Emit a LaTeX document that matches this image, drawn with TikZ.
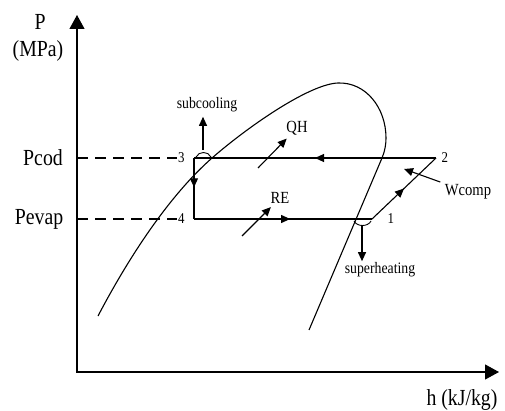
\documentclass[tikz,border=0pt]{standalone}
\usepackage{fontspec}
\setmainfont[FakeStretch=0.86]{Liberation Serif}
\usetikzlibrary{arrows.meta, positioning, decorations.markings}

\begin{document}
\begin{tikzpicture}[
    x=1pt, y=-1pt,
    line width=1.1pt,
    biglabel/.style={font=\fontsize{23}{27}\selectfont, inner sep=0pt},
    smalllabel/.style={font=\fontsize{17}{20}\selectfont, inner sep=3pt},
    ptlabel/.style={font=\fontsize{15}{18}\selectfont, inner sep=0pt},
    axis/.style={{Triangle[length=14pt,width=15pt]}-{Triangle[length=14pt,width=15pt]}},
    arrow/.style={-{Triangle[length=9pt,width=8pt]}},
    dashline/.style={dash pattern=on 11pt off 7pt},
    midarrow/.style={postaction={decorate}, decoration={markings,
        mark=at position #1 with {\arrow{Triangle[length=9pt,width=8pt]}}}},
    midarrow/.default=0.5
]
\useasboundingbox (0,0) rectangle (505,411);

% Axes
\coordinate (O) at (77,372);
\coordinate (ytop) at (77,15);
\coordinate (xend) at (499,372);
\draw[axis] (ytop) -- (O) -- (xend);
\node[biglabel] (P) at (40,22) {P};
\node[biglabel] (MPa) at (38,51) {(MPa)};
\node[biglabel] (hlabel) at (462,400) {h (kJ/kg)};

% Saturation dome
\draw (98,316) .. controls (130,255) and (170,195) .. (212,158)
      .. controls (250,125) and (310,84) .. (338,83)
      .. controls (366,82) and (386,108) .. (386,138)
      .. controls (386,144) and (385,151) .. (382,158) -- (309,330);

% Cycle points
\coordinate (p1) at (372,219);
\coordinate (p2) at (436,158);
\coordinate (p3) at (194,158);
\coordinate (p4) at (194,219);
\node[ptlabel, right=15pt of p1] (n1) {1};
\node[ptlabel, right=5pt of p2] (n2) {2};
\node[ptlabel, left=9pt of p3] (n3) {3};
\node[ptlabel, left=9pt of p4] (n4) {4};

% Pressure levels
\node[biglabel] (Pcod) at (43,158) {Pcod};
\node[biglabel] (Pevap) at (39,219) {Pevap};
\draw[dashline] (O |- p3) -- (n3);
\draw[dashline] (O |- p4) -- (n4);

% Cycle
\draw[midarrow=0.5] (p2) -- (p3);
\draw[midarrow=0.48] (p3) -- (p4);
\draw[midarrow=0.54] (p4) -- (p1);
\draw[midarrow=0.5] (p1) -- (p2);

% Heat and work
\node[smalllabel] (QH) at (297,128) {QH};
\coordinate (qhs) at (258,168);
\draw[arrow] (qhs) -- (QH);
\node[smalllabel] (RE) at (280,198) {RE};
\coordinate (res) at (242,236);
\draw[arrow] (res) -- (RE);
\node[smalllabel, inner sep=4pt] (Wcomp) at (468,192) {Wcomp};
\coordinate (wc) at (404,169);
\draw[arrow] (Wcomp) -- (wc);

% Subcooling
\draw[line width=0.9pt] (196,157) .. controls (199,151) and (208,151) .. (211,157);
\coordinate (sc) at (203,150);
\node[smalllabel, font=\fontsize{16}{19}\selectfont, inner sep=4pt] (subcool) at (207,105) {subcooling};
\draw[arrow] (sc) -- (subcool.south -| sc);

% Superheating
\draw[line width=0.9pt] (354,221) .. controls (357,227) and (368,227) .. (371,221);
\coordinate (sh) at (362,226);
\node[smalllabel, font=\fontsize{16}{19}\selectfont, inner sep=1pt] (superheat) at (380,270) {superheating};
\draw[arrow] (sh) -- (superheat.north -| sh);

\end{tikzpicture}
\end{document}
